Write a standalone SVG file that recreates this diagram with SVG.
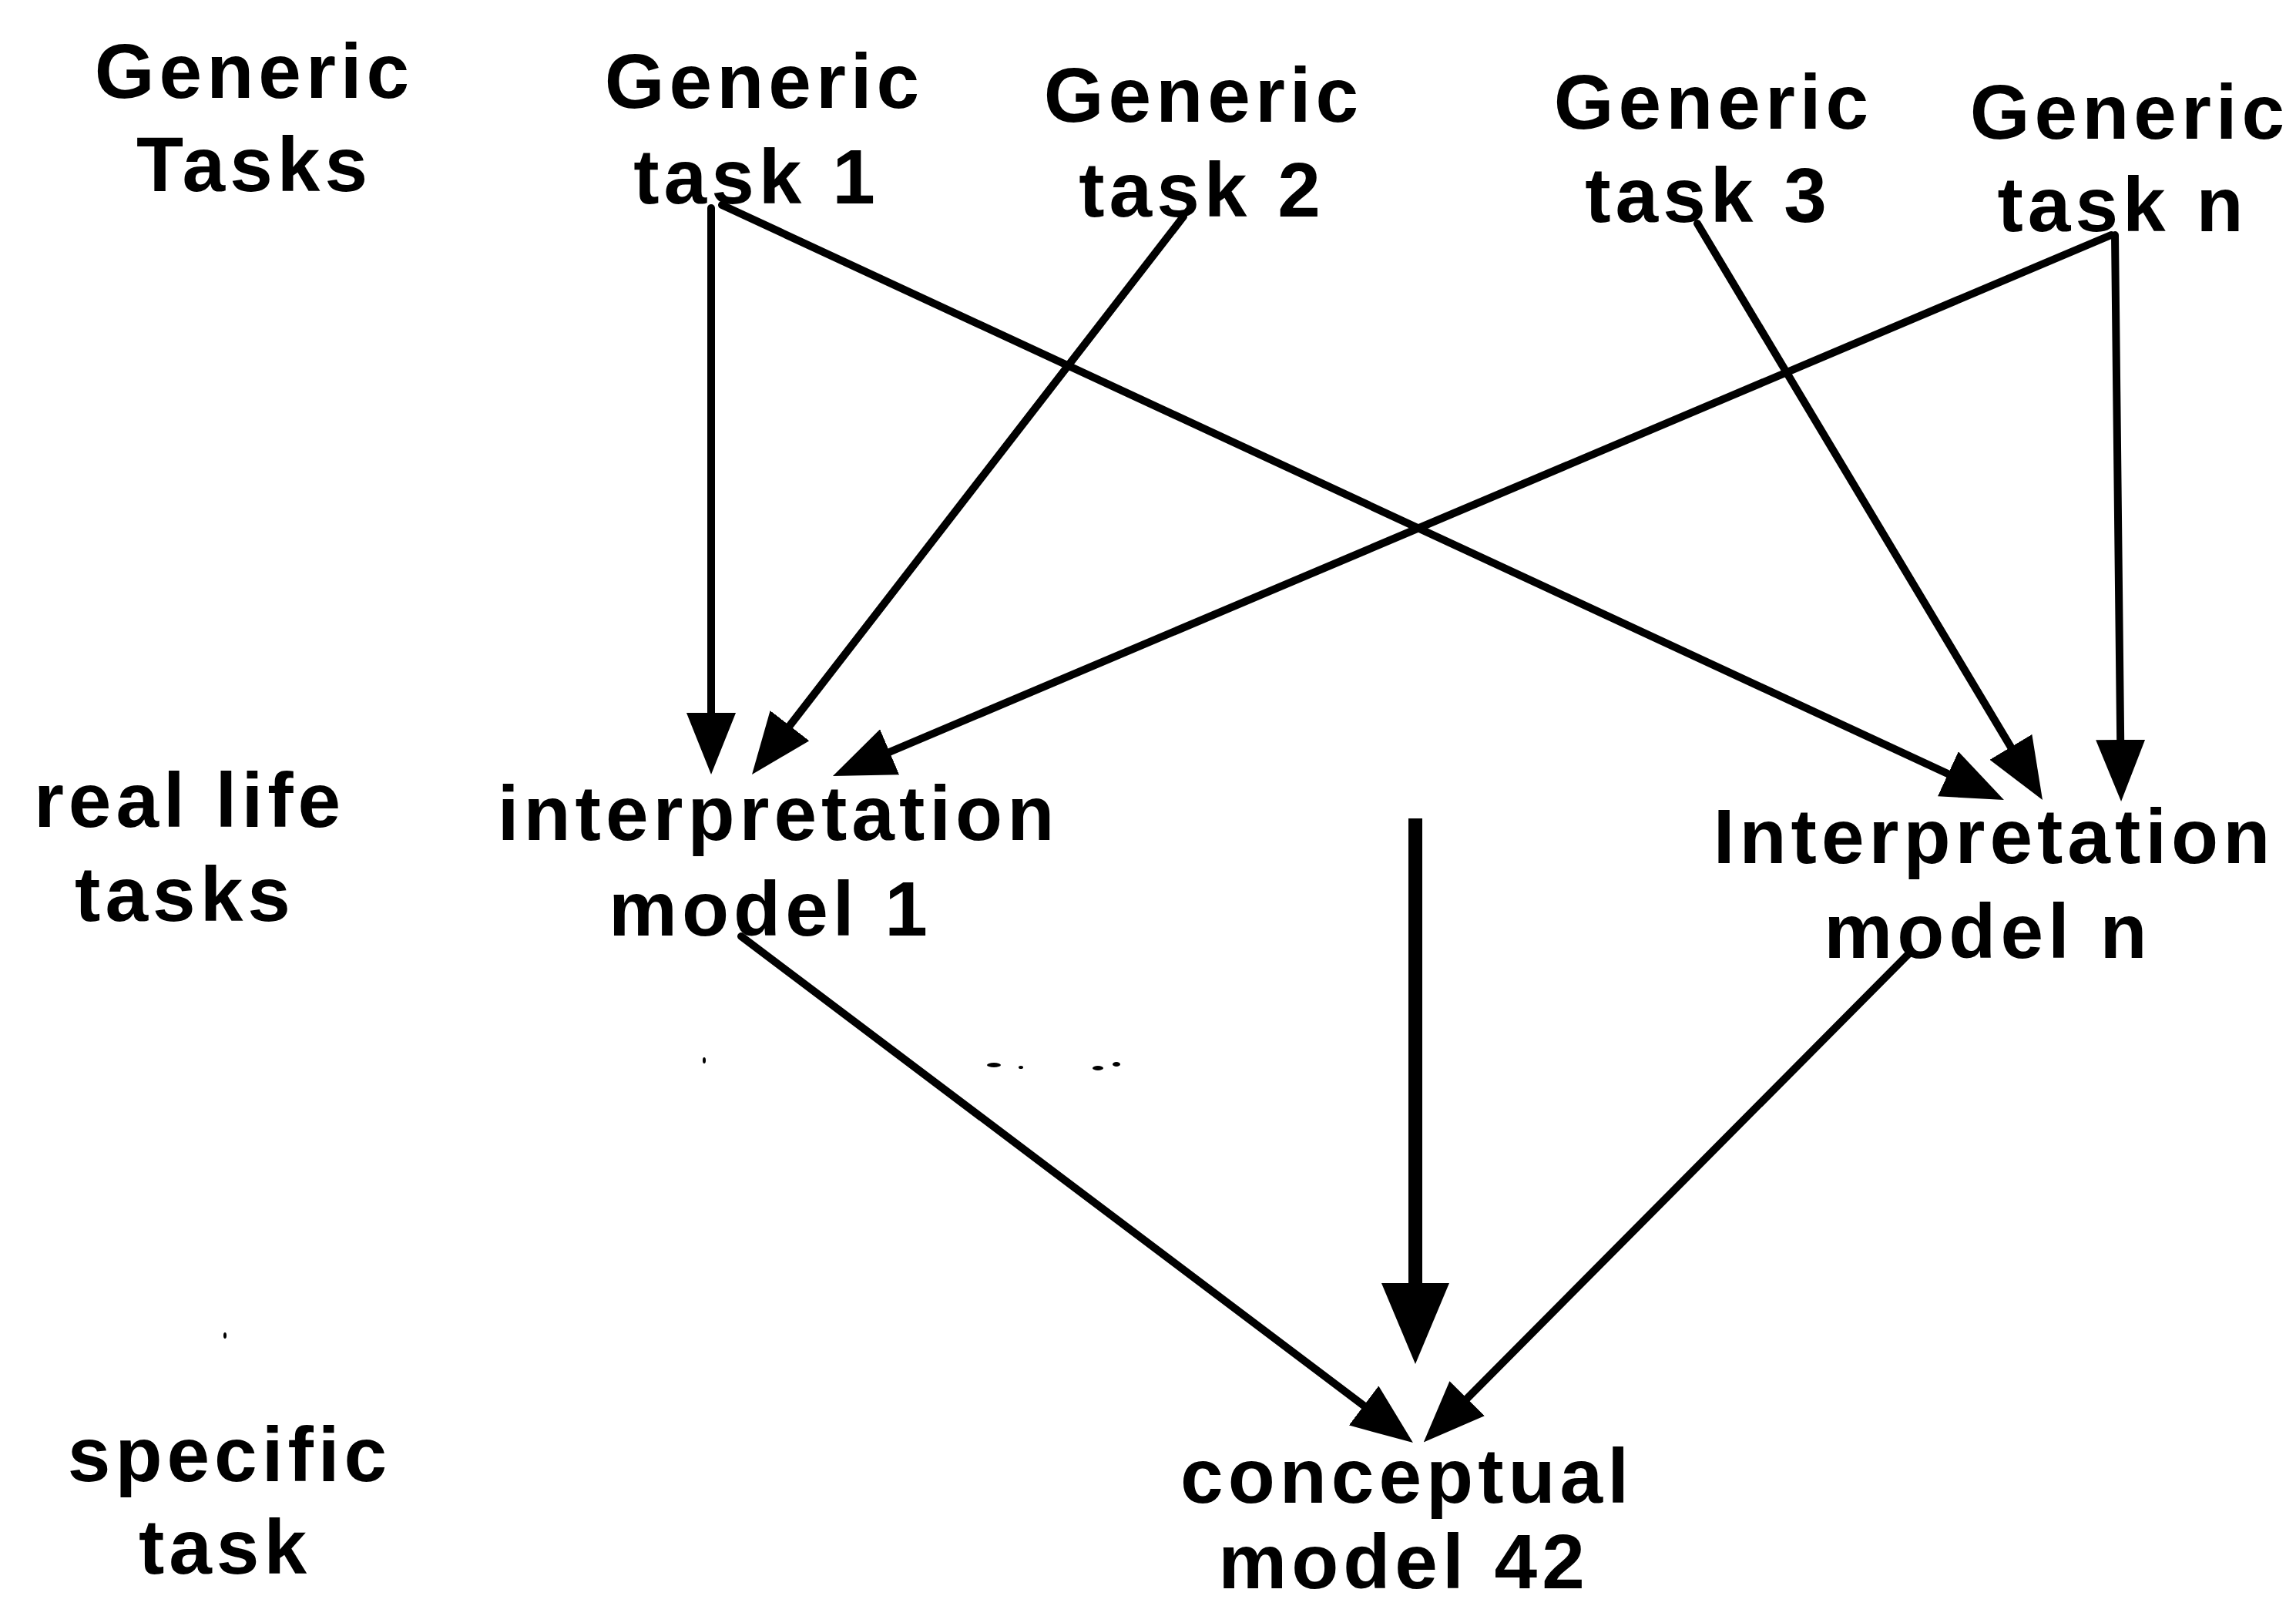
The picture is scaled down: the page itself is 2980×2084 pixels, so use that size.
<svg xmlns="http://www.w3.org/2000/svg" width="2980" height="2084" viewBox="0 0 2980 2084">
<style>
  .t { font-family: "Liberation Sans", Arial, sans-serif; font-weight: bold; font-size: 100px; letter-spacing: 6px; fill: #000; text-anchor: middle; }
  .c { stroke: #000; stroke-width: 10; fill: none; stroke-linecap: round; marker-end: url(#ah); }
  .heavy { stroke: #000; stroke-width: 18; fill: none; marker-end: url(#ahBig); }
</style>
<defs>
  <marker id="ah" markerUnits="userSpaceOnUse" markerWidth="80" markerHeight="64" refX="30" refY="32" orient="auto">
    <path d="M0,0 L80,32 L0,64 z" fill="#000"/>
  </marker>
  <marker id="ahBig" markerUnits="userSpaceOnUse" markerWidth="105" markerHeight="88" refX="45" refY="44" orient="auto">
    <path d="M0,0 L105,44 L0,88 z" fill="#000"/>
  </marker>
</defs>
<rect width="2980" height="2084" fill="#fff"/>

<g id="connectors">
  <line class="c" x1="923" y1="270" x2="923" y2="955"/>
  <line class="c" x1="937" y1="266" x2="2555.6" y2="1016.9"/>
  <line class="c" x1="1536" y1="281" x2="1006.6" y2="965.4"/>
  <line class="c" x1="2740" y1="305" x2="1127" y2="987.5"/>
  <line class="c" x1="2203" y1="290" x2="2625.3" y2="995.1"/>
  <line class="c" x1="2745" y1="305" x2="2752.5" y2="990"/>
  <line class="c" x1="962" y1="1215" x2="1794" y2="1842"/>
  <line class="c" x1="2478" y1="1237" x2="1883" y2="1836"/>
  <line class="heavy" x1="1837" y1="1062" x2="1837" y2="1710"/>
</g>

<g id="label-generic-tasks">
  <text class="t" x="330" y="127">Generic</text>
  <text class="t" x="330" y="248">Tasks</text>
</g>
<g id="node-generic-task-1">
  <text class="t" x="992" y="140">Generic</text>
  <text class="t" x="982" y="264">task 1</text>
</g>
<g id="node-generic-task-2">
  <text class="t" x="1562" y="158">Generic</text>
  <text class="t" x="1560" y="281">task 2</text>
</g>
<g id="node-generic-task-3">
  <text class="t" x="2224" y="167">Generic</text>
  <text class="t" x="2217" y="288">task 3</text>
</g>
<g id="node-generic-task-n">
  <text class="t" x="2764" y="180">Generic</text>
  <text class="t" x="2755" y="300">task n</text>
</g>
<g id="label-real-life-tasks">
  <text class="t" x="246" y="1073">real life</text>
  <text class="t" x="240" y="1195">tasks</text>
</g>
<g id="node-interpretation-model-1">
  <text class="t" x="1010" y="1090">interpretation</text>
  <text class="t" x="1000" y="1214">model 1</text>
</g>
<g id="node-interpretation-model-n">
  <text class="t" x="2588" y="1120">Interpretation</text>
  <text class="t" x="2580" y="1243">model n</text>
</g>
<g id="label-specific-task">
  <text class="t" x="298" y="1922">specific</text>
  <text class="t" x="292" y="2042">task</text>
</g>
<g id="node-conceptual-model-42">
  <text class="t" x="1826" y="1950">conceptual</text>
  <text class="t" x="1822" y="2061">model 42</text>
</g>

<g id="specks" fill="#000">
  <ellipse cx="1290" cy="1382" rx="9" ry="3"/>
  <ellipse cx="1325" cy="1385" rx="3" ry="2"/>
  <ellipse cx="1425" cy="1386" rx="7" ry="3"/>
  <ellipse cx="1449" cy="1381" rx="5" ry="3"/>
  <ellipse cx="914" cy="1376" rx="2" ry="4"/>
  <ellipse cx="292" cy="1733" rx="2" ry="4"/>
</g>
</svg>
